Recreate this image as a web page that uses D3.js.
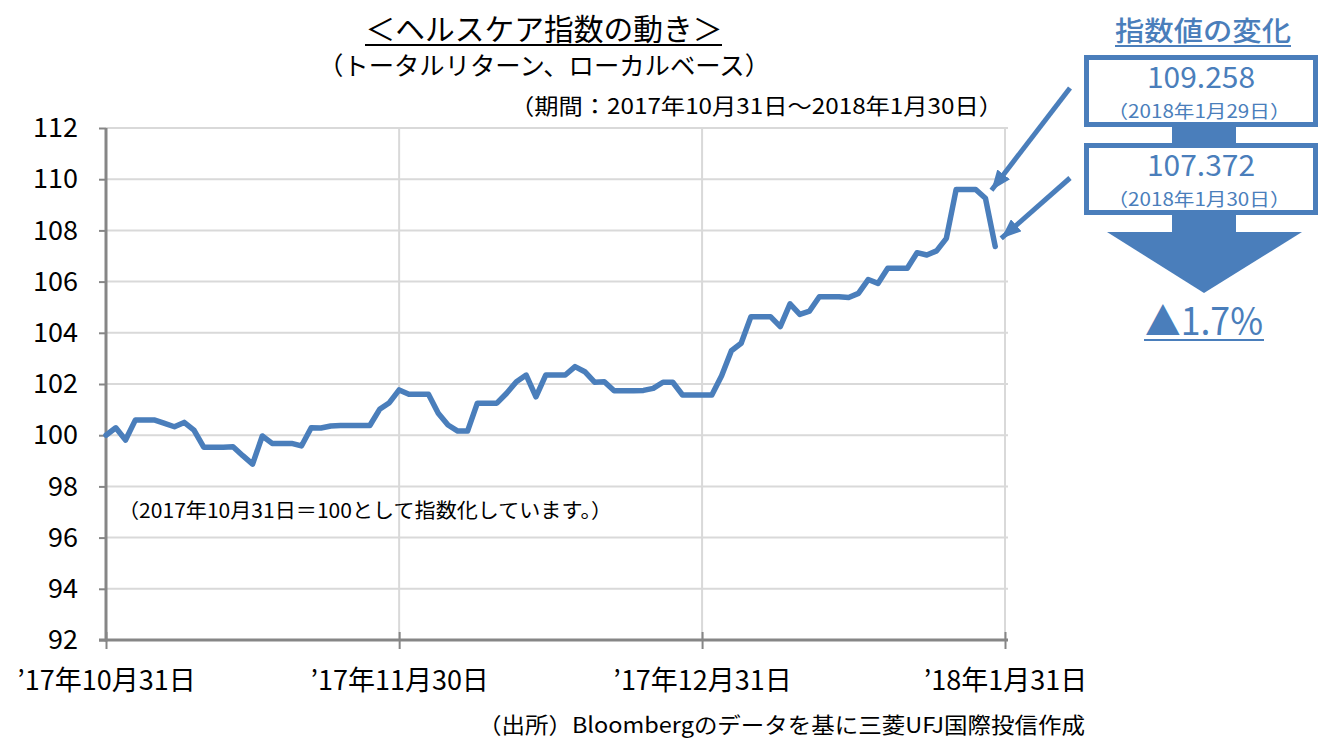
<!DOCTYPE html>
<html>
<head>
<meta charset="utf-8">
<script src="https://cdn.jsdelivr.net/npm/d3@7"></script>
<style>
  body { margin: 0; background: #fff; }
  svg { display: block; }
  text { font-family: "Noto Sans CJK JP", "Noto Sans", sans-serif; }
</style>
</head>
<body>
<svg id="chart" width="1319" height="740"></svg>
<script>
// daily values from 2017-10-31 (weekends / holidays carry the last close)
const startDate = "2017-10-31";
const indexValues = [
  100.00, 100.29, 99.81, 100.59, 100.59, 100.59, 100.46, 100.33, 100.50, 100.20,
  99.53, 99.53, 99.53, 99.55, 99.20, 98.87, 99.97, 99.68, 99.68, 99.68,
  99.58, 100.29, 100.28, 100.36, 100.38, 100.38, 100.38, 100.38, 101.01, 101.27,
  101.77, 101.60, 101.60, 101.60, 100.86, 100.40, 100.16, 100.16, 101.25, 101.25,
  101.25, 101.64, 102.09, 102.35, 101.50, 102.35, 102.35, 102.35, 102.68, 102.48,
  102.07, 102.09, 101.74, 101.74, 101.74, 101.75, 101.83, 102.07, 102.07, 101.57,
  101.57, 101.57, 101.57, 102.32, 103.30, 103.59, 104.63, 104.63, 104.63, 104.24,
  105.13, 104.72, 104.85, 105.41, 105.41, 105.41, 105.38, 105.54, 106.08, 105.93,
  106.52, 106.52, 106.52, 107.13, 107.04, 107.20, 107.69, 109.60, 109.60, 109.60,
  109.258, 107.372
];

const yTicks = [92, 94, 96, 98, 100, 102, 104, 106, 108, 110, 112];
const xTickDates = ["2017-10-31", "2017-11-30", "2017-12-31", "2018-01-31"];
const xTickLabels = ["’17年10月31日", "’17年11月30日", "’17年12月31日", "’18年1月31日"];

// 右側の注記
const changeIndex = [90, 91];
const changeValues = ["109.258", "107.372"];
const changeDates = ["（2018年1月29日）", "（2018年1月30日）"];
const changePct = "▲1.7%";

const blue = "#4a7ebb";
const parse = d3.timeParse("%Y-%m-%d");
const t0 = parse(startDate);
const data = indexValues.map((v, i) => ({ date: d3.timeDay.offset(t0, i), value: v }));

const svg = d3.select("#chart");
const plotLeft = 106, plotRight = 1005, plotTop = 128, plotBottom = 640;

const x = d3.scaleTime()
  .domain([parse(xTickDates[0]), parse(xTickDates[xTickDates.length - 1])])
  .range([plotLeft, plotRight]);
const y = d3.scaleLinear().domain([92, 112]).range([plotBottom, plotTop]);

// grid
svg.append("g")
  .selectAll("line")
  .data(yTicks.slice(1))
  .join("line")
    .attr("x1", plotLeft).attr("x2", plotRight + 3)
    .attr("y1", d => y(d)).attr("y2", d => y(d))
    .attr("stroke", "#d9d9d9").attr("stroke-width", 2);
svg.append("g")
  .selectAll("line")
  .data(xTickDates.slice(1))
  .join("line")
    .attr("x1", d => x(parse(d))).attr("x2", d => x(parse(d)))
    .attr("y1", plotTop).attr("y2", plotBottom)
    .attr("stroke", "#d9d9d9").attr("stroke-width", 2);

// axes
const yAxis = svg.append("g")
  .attr("transform", `translate(${plotLeft},0)`)
  .call(d3.axisLeft(y).tickValues(yTicks).tickSize(7).tickPadding(21));
yAxis.select(".domain").remove();
yAxis.selectAll(".tick line").attr("stroke", "#868686").attr("stroke-width", 2);
yAxis.selectAll("text").attr("font-size", 27).attr("fill", "#000")
  .attr("font-family", "\"Noto Sans CJK JP\", sans-serif");

const xAxis = svg.append("g")
  .attr("transform", `translate(0,${plotBottom})`)
  .call(d3.axisBottom(x).tickValues(xTickDates.map(parse)).tickSize(9).tickPadding(22)
    .tickFormat((d, i) => xTickLabels[i]));
xAxis.select(".domain").remove();
xAxis.selectAll(".tick line").attr("y1", -8).attr("stroke", "#868686").attr("stroke-width", 2);
xAxis.selectAll("text").attr("font-size", 27).attr("fill", "#000")
  .attr("font-family", "\"Noto Sans CJK JP\", sans-serif");

svg.append("line")
  .attr("x1", plotLeft).attr("x2", plotLeft).attr("y1", plotTop).attr("y2", plotBottom + 1.5)
  .attr("stroke", "#868686").attr("stroke-width", 3);
svg.append("line")
  .attr("x1", plotLeft - 7).attr("x2", plotRight + 3).attr("y1", plotBottom).attr("y2", plotBottom)
  .attr("stroke", "#868686").attr("stroke-width", 3);

// line
svg.append("path")
  .datum(data)
  .attr("fill", "none")
  .attr("stroke", blue)
  .attr("stroke-width", 5.5)
  .attr("stroke-linejoin", "round")
  .attr("stroke-linecap", "round")
  .attr("d", d3.line().x(d => x(d.date)).y(d => y(d.value)));

function label(str, px, py, size, anchor, len, color, weight) {
  const t = svg.append("text")
    .attr("x", px).attr("y", py)
    .attr("font-size", size)
    .attr("text-anchor", anchor)
    .attr("fill", color || "#000")
    .attr("font-weight", weight || "normal")
    .text(str);
  if (len) t.attr("textLength", len).attr("lengthAdjust", "spacingAndGlyphs");
  return t;
}

// titles
label("＜ヘルスケア指数の動き＞", 544, 40, 30, "middle", 357);
svg.append("line").attr("x1", 365).attr("x2", 722).attr("y1", 45).attr("y2", 45)
  .attr("stroke", "#000").attr("stroke-width", 2);
label("（トータルリターン、ローカルベース）", 544, 75, 25, "middle", 452);
label("（期間：2017年10月31日～2018年1月30日）", 1003, 114, 22, "end", 493);
label("（2017年10月31日＝100として指数化しています。）", 118, 518, 20, "start", 494);
label("（出所）Bloombergのデータを基に三菱UFJ国際投信作成", 1085, 733, 22, "end", 607);

// right panel
const cx = 1201;
label("指数値の変化", 1203, 41, 27, "middle", 176, blue, 500);
svg.append("line").attr("x1", 1115).attr("x2", 1291).attr("y1", 46).attr("y2", 46)
  .attr("stroke", blue).attr("stroke-width", 2);

svg.append("rect").attr("x", 1172).attr("y", 124).attr("width", 64).attr("height", 24).attr("fill", blue);
svg.append("rect").attr("x", 1172).attr("y", 210).attr("width", 64).attr("height", 24).attr("fill", blue);
svg.append("path")
  .attr("d", "M1107,232L1302,232L1204,293Z")
  .attr("fill", blue);

const boxTop = [57.5, 145.5];
boxTop.forEach((by, i) => {
  svg.append("rect")
    .attr("x", 1086.5).attr("y", by).attr("width", 229).attr("height", 67)
    .attr("fill", "#fff").attr("stroke", blue).attr("stroke-width", 5);
  label(changeValues[i], cx, by + 30.5, 29, "middle", 108, blue);
  label(changeDates[i], 1199, by + 60, 18, "middle", 183, blue);
});

label(changePct, 1204, 335, 38, "middle", 118, blue);
svg.append("line").attr("x1", 1144).attr("x2", 1264).attr("y1", 340).attr("y2", 340)
  .attr("stroke", blue).attr("stroke-width", 2);

// arrows pointing at the last two points
const defs = svg.append("defs");
defs.append("marker")
  .attr("id", "head")
  .attr("markerUnits", "userSpaceOnUse")
  .attr("viewBox", "0 0 20 16")
  .attr("markerWidth", 20).attr("markerHeight", 16)
  .attr("refX", 20).attr("refY", 8)
  .attr("orient", "auto")
  .append("path").attr("d", "M0,0L20,8L0,16Z").attr("fill", blue);

const arrowStart = [[1070, 88], [1070, 178]];
changeIndex.forEach((k, i) => {
  const d = data[k];
  svg.append("line")
    .attr("x1", arrowStart[i][0]).attr("y1", arrowStart[i][1])
    .attr("x2", x(d.date) + 6).attr("y2", y(d.value) - 8)
    .attr("stroke", blue).attr("stroke-width", 5)
    .attr("marker-end", "url(#head)");
});
</script>
</body>
</html>
